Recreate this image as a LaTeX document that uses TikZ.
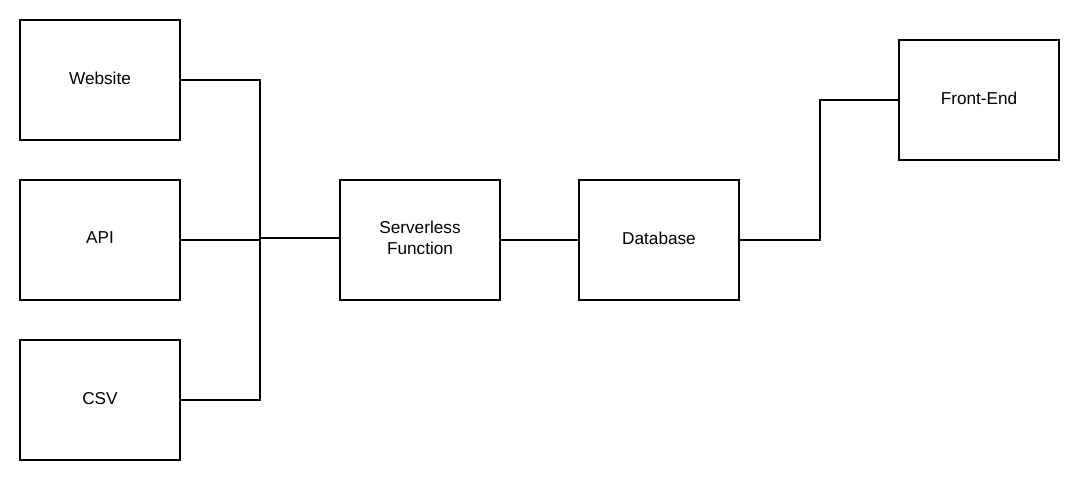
\documentclass[tikz,border=0pt]{standalone}
\usepackage{fontspec}
\setmainfont{Liberation Sans}
\usepackage{xcolor}

\begin{document}
\begin{tikzpicture}[x=1pt,y=-1pt,
  stage/.style={draw,line width=2pt,minimum width=160pt,minimum height=120pt,
    align=center,text depth=4pt,font=\fontsize{17.2}{20.5}\selectfont},
  link/.style={line width=2pt}]
\useasboundingbox (0,0) rectangle (1079,480);
  \foreach \nm/\txt/\yy in {website/Website/80,api/API/240,csv/CSV/400}
  {  \node [stage] (\nm) at (100,\yy) {\txt};}
\node [stage] (serverless) at (420,240) {Serverless\\Function};
\node [stage] (database) at (659,240) {Database};
\node [stage] (frontend) at (979,100) {Front-End};
\coordinate (hub) at (260,238);
\draw [link] (website.east) -| (hub) |- (csv.east);
\draw [link] (api.east) -- (api.east -| hub);
\draw [link] (hub) -- (hub -| serverless.west);
\draw [link] (serverless.east) -- (database.west);
\draw [link] (database.east) -- ++(80,0) |- (frontend.west);
\end{tikzpicture}
\end{document}
